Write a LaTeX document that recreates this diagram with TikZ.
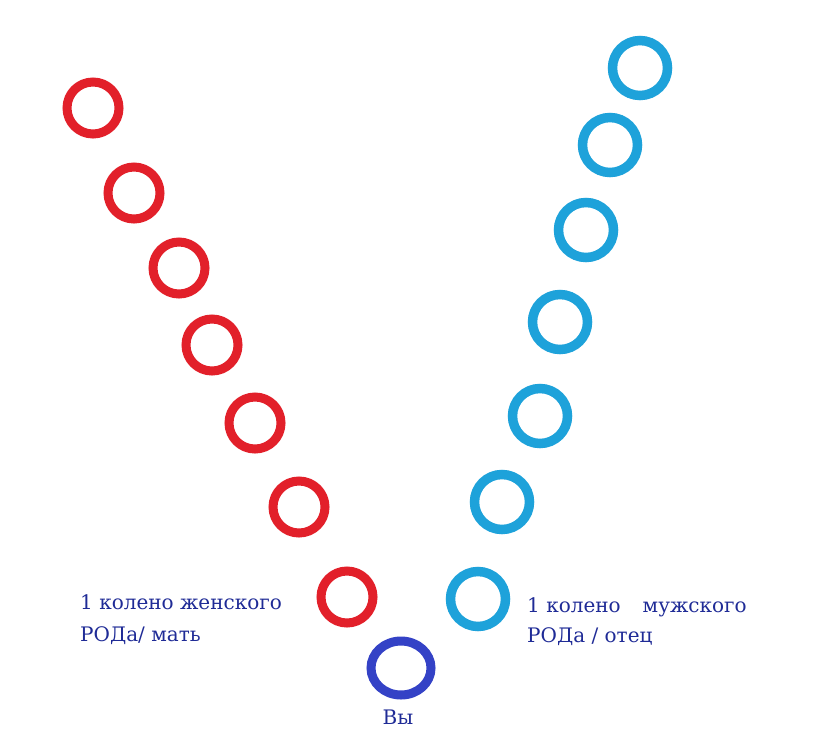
\documentclass[tikz,border=0pt]{standalone}
\usepackage{fontspec}
\setmainfont{DejaVu Serif}
\usetikzlibrary{positioning, shapes.geometric}
\definecolor{momred}{HTML}{E2202A}
\definecolor{dadblue}{HTML}{1EA2DA}
\definecolor{youblue}{HTML}{3442C6}
\definecolor{textblue}{HTML}{1F2B96}

\begin{document}
\begin{tikzpicture}[x=1pt, y=-1pt]
	\tikzstyle{female}=[circle, draw=momred, line width=9pt, minimum size=52pt, inner sep=0pt]
	\tikzstyle{male}=[circle, draw=dadblue, line width=9.5pt, minimum size=55pt, inner sep=0pt]
	\tikzstyle{you}=[ellipse, draw=youblue, line width=9pt, minimum width=60pt, minimum height=54pt, inner sep=0pt]
	\tikzstyle{kintext}=[text=textblue, font=\fontsize{20}{24}\selectfont, inner sep=0pt]
	\useasboundingbox (0,0) rectangle (818,750);
	% mother's line
	\node[female] (f1) at (93,108) {};
	\node[female] (f2) at (134,193) {};
	\node[female] (f3) at (179,268) {};
	\node[female] (f4) at (212,345) {};
	\node[female] (f5) at (255,423) {};
	\node[female] (f6) at (299,507) {};
	\node[female] (f7) at (347,597) {};
	% father's line
	\node[male] (m1) at (640,68) {};
	\node[male] (m2) at (610,145) {};
	\node[male] (m3) at (586,230) {};
	\node[male] (m4) at (560,322) {};
	\node[male] (m5) at (540,416) {};
	\node[male] (m6) at (502,502) {};
	\node[male] (m7) at (478,599) {};
	% you
	\node[you] (y) at (401,668) {};
	\node[kintext, anchor=base] (ytext) at (398,724) {Вы};
	% texts
	\node[kintext, anchor=base west] (f7a) at (80,609) {1 колено женского};
	\node[kintext, anchor=base west] (f7b) at (80,641) {РОДа/ мать};
	\node[kintext, anchor=base west] (m7a) at (527,612) {1 колено\hspace{1.1em}мужского};
	\node[kintext, anchor=base west] (m7b) at (527,642) {РОДа / отец};
\end{tikzpicture}
\end{document}
